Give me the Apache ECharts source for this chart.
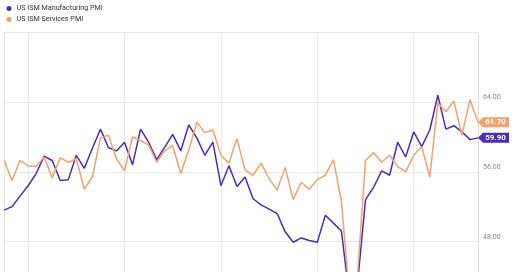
<!DOCTYPE html>
<html>
<head>
<meta charset="utf-8">
<script src="https://cdn.jsdelivr.net/npm/echarts@6/dist/echarts.min.js"></script>
<style>
html,body{margin:0;padding:0;background:#fff;}
#c{width:520px;height:272px;}
</style>
</head>
<body>
<div id="c"></div>
<script>
var months = [
 '2016-09','2016-10','2016-11','2016-12',
 '2017-01','2017-02','2017-03','2017-04','2017-05','2017-06','2017-07','2017-08','2017-09','2017-10','2017-11','2017-12',
 '2018-01','2018-02','2018-03','2018-04','2018-05','2018-06','2018-07','2018-08','2018-09','2018-10','2018-11','2018-12',
 '2019-01','2019-02','2019-03','2019-04','2019-05','2019-06','2019-07','2019-08','2019-09','2019-10','2019-11','2019-12',
 '2020-01','2020-02','2020-03','2020-04','2020-05','2020-06','2020-07','2020-08','2020-09','2020-10','2020-11','2020-12',
 '2021-01','2021-02','2021-03','2021-04','2021-05','2021-06','2021-07','2021-08'
];
var manufacturing = [
 51.6, 52.0, 53.2, 54.4,
 55.8, 57.8, 57.3, 55.0, 55.1, 57.9, 56.4, 58.7, 60.9, 58.8, 58.4, 59.4,
 56.8, 60.9, 59.4, 57.4, 58.8, 60.3, 58.4, 61.4, 59.9, 57.9, 59.4, 54.4,
 56.7, 54.3, 55.4, 52.9, 52.2, 51.7, 51.2, 49.1, 47.9, 48.4, 48.1, 47.9,
 51.0, 50.1, 49.2, 41.5, 43.1, 52.8, 54.2, 56.1, 55.6, 59.4, 57.7, 60.6,
 58.9, 60.8, 64.8, 60.9, 61.3, 60.6, 59.7, 59.9
];
var services = [
 57.3, 55.0, 57.3, 56.7,
 56.6, 57.7, 55.3, 57.6, 57.1, 57.5, 54.0, 55.4, 59.9, 60.2, 57.5, 56.1,
 60.0, 59.6, 59.1, 57.1, 58.4, 59.0, 55.8, 58.5, 61.7, 60.5, 60.8, 57.9,
 57.0, 59.8, 56.2, 55.6, 57.0, 55.2, 53.9, 56.5, 52.8, 54.8, 54.0, 55.1,
 55.6, 57.4, 52.6, 41.8, 44.0, 57.3, 58.2, 57.1, 57.9, 56.6, 56.0, 57.9,
 58.9, 55.4, 63.9, 62.9, 64.1, 60.2, 64.3, 61.7
];
var seriesNames = ['US ISM Manufacturing PMI', 'US ISM Services PMI'];
var colors = ['#4b2cb8', '#f2a26a'];
var yMin = 40, yMax = 72, yStep = 8;

var tagPath = 'path://M0,5 L5,0 L31,0 L31,10 L5,10 Z';
function endTag(data) {
  var last = data.length - 1;
  return {
    symbol: tagPath,
    symbolSize: [31, 10],
    symbolOffset: [15.5, 0],
    symbolKeepAspect: false,
    silent: true,
    label: {
      show: true,
      position: 'inside',
      offset: [2, 0],
      color: '#fff',
      fontSize: 8,
      fontWeight: 'bold',
      fontFamily: 'Roboto',
      formatter: function (p) { return Number(p.value).toFixed(2); }
    },
    data: [{ coord: [months[last], data[last]], value: data[last] }]
  };
}

var chart = echarts.init(document.getElementById('c'), null, { renderer: 'canvas' });
chart.setOption({
  animation: false,
  backgroundColor: '#fff',
  textStyle: { fontFamily: 'Roboto' },
  legend: {
    orient: 'vertical',
    left: 6.5,
    top: 5,
    padding: 0,
    icon: 'circle',
    itemWidth: 5,
    itemHeight: 5,
    itemGap: 4,
    data: seriesNames,
    textStyle: { fontSize: 7.2, color: '#333', fontFamily: 'Roboto' }
  },
  grid: { left: 4, right: 42, top: 32.6, bottom: -39, containLabel: false, outerBoundsMode: 'none' },
  xAxis: {
    type: 'category',
    data: months,
    boundaryGap: false,
    axisLine: { show: false },
    axisTick: { show: false },
    axisLabel: { show: false },
    splitLine: {
      show: true,
      interval: function (i, v) { return i === 0 || /-12$/.test(v); },
      lineStyle: { color: '#e8e8e8', width: 1 }
    }
  },
  yAxis: {
    type: 'value',
    position: 'right',
    min: yMin, max: yMax, interval: yStep,
    axisLine: { show: true, lineStyle: { color: '#dcdcdc' } },
    axisTick: { show: false },
    splitLine: { lineStyle: { color: '#e8e8e8' } },
    axisLabel: {
      showMaxLabel: false,
      margin: 5,
      fontSize: 7,
      color: '#888',
      verticalAlign: 'bottom',
      padding: [0, 0, 1, 0],
      formatter: function (v) { return v.toFixed(2); }
    }
  },
  series: [
    {
      name: seriesNames[0], type: 'line', data: manufacturing,
      showSymbol: false, symbol: 'none', color: colors[0],
      lineStyle: { width: 1.5, color: colors[0] },
      markPoint: endTag(manufacturing)
    },
    {
      name: seriesNames[1], type: 'line', data: services,
      showSymbol: false, symbol: 'none', color: colors[1],
      lineStyle: { width: 1.5, color: colors[1] },
      markPoint: endTag(services)
    }
  ]
});
</script>
</body>
</html>
